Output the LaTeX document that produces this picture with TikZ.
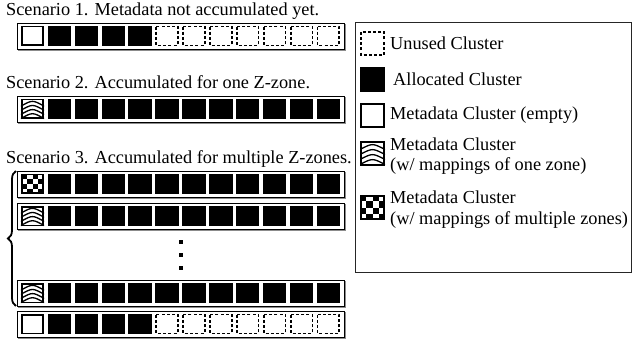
\documentclass[tikz,border=0pt]{standalone}
\usepackage{fontspec}
\setmainfont{Liberation Serif}
\usetikzlibrary{decorations.pathreplacing}

% one cell of a cluster bar: #1 = left x, #2 = top y, #3 = width, #4 = height
\newcommand\clcellK[4]{\fill[black] (#1,#2) rectangle ++(#3,#4);}
\newcommand\clcellE[4]{\draw[metacell] (#1+0.9,#2+0.9) rectangle (#1+#3-0.9,#2+#4-0.9);}
\newcommand\clcellU[4]{\draw[unusedcell] (#1+0.85,#2+0.85) rectangle (#1+#3-0.85,#2+#4-0.85);}
\newcommand\clcellS[4]{%
  \begin{scope}
    \clip (#1,#2) rectangle ++(#3,#4);
    \foreach \s in {0.22,0.42,0.62,0.82}{
      \draw[stripe] (#1,#2+#4*\s+3) .. controls (#1+#3*0.5,#2+#4*\s-3.5) .. (#1+#3,#2+#4*\s+3);
    }
  \end{scope}
  \draw[metacell] (#1+0.9,#2+0.9) rectangle (#1+#3-0.9,#2+#4-0.9);}
\newcommand\clcellC[4]{%
  \foreach \i in {0,...,3}{
    \foreach \j in {0,...,3}{
      \pgfmathparse{int(mod(\i+\j,2))}
      \ifnum\pgfmathresult=0
        \fill[black] (#1+#3*\i/4,#2+#4*\j/4) rectangle ++(#3/4,#4/4);
      \fi
    }
  }
  \draw[metacell] (#1+0.9,#2+0.9) rectangle (#1+#3-0.9,#2+#4-0.9);}

% a framed bar of twelve clusters: #1 = name, #2 = top y, #3 = list of cell kinds
\newcommand\clusterbar[3]{%
  \draw[barshadow] (18.2,#2+1.2) rectangle (345.2,#2+27.2);
  \node[barframe, minimum width=327pt, minimum height=26pt, anchor=north west] (#1) at (17,#2) {};
  \foreach \k [count=\n from 0] in {#3}{
    \pgfmathsetmacro\cx{20.8+26.9*\n}
    \pgfmathsetmacro\cy{#2+2.7}
    \csname clcell\k\endcsname{\cx}{\cy}{23.4}{20.6}
  }
}

\tikzset{
  label/.style={anchor=base west, inner sep=0pt, font=\fontsize{18.3}{20.8}\selectfont},
  twoline/.style={label, align=left},
  barframe/.style={draw=black, line width=0.9pt, fill=white, inner sep=0pt, outer sep=0pt},
  barshadow/.style={draw=black!45, line width=1pt},
  metacell/.style={draw=black, line width=1.8pt},
  unusedcell/.style={draw=black, line width=1.7pt, dash pattern=on 3pt off 2.2pt},
  stripe/.style={draw=black, line width=1.3pt},
  legendbox/.style={draw=black!85, line width=0.8pt},
  ellipsisdot/.style={fill=black, minimum size=4pt, inner sep=0pt},
}

\begin{document}
\begin{tikzpicture}[x=1pt, y=-1pt]
  \useasboundingbox (0,0) rectangle (633,345);

  % scenario 1
  \node[label] (t1) at (6,16) {Scenario 1. Metadata not accumulated yet.};
  \clusterbar{bar1}{23}{E,K,K,K,K,U,U,U,U,U,U,U}

  % scenario 2
  \node[label] (t2) at (6,89) {Scenario 2. Accumulated for one Z-zone.};
  \clusterbar{bar2}{96}{S,K,K,K,K,K,K,K,K,K,K,K}

  % scenario 3
  \node[label] (t3) at (6,164) {Scenario 3. Accumulated for multiple Z-zones.};
  \clusterbar{bar3a}{171}{C,K,K,K,K,K,K,K,K,K,K,K}
  \clusterbar{bar3b}{203}{S,K,K,K,K,K,K,K,K,K,K,K}
  \node[ellipsisdot] (d1) at (181,242) {};
  \node[ellipsisdot] (d2) at (181,255) {};
  \node[ellipsisdot] (d3) at (181,268) {};
  \clusterbar{bar3c}{280}{S,K,K,K,K,K,K,K,K,K,K,K}
  \clusterbar{bar4}{311}{E,K,K,K,K,U,U,U,U,U,U,U}

  % brace grouping the accumulated bars
  \coordinate (bt) at (16,171);
  \coordinate (bb) at (16,306);
  \draw[decorate, decoration={brace, amplitude=8pt}, line width=1.8pt] (bb) -- (bt);

  % legend
  \node[legendbox, minimum width=276pt, minimum height=250pt, anchor=north west, inner sep=0pt] (legend) at (355,22) {};
  \clcellU{360}{31}{25}{25}
  \node[label] (lu) at (390,50) {Unused Cluster};
  \clcellK{360}{67}{25}{25}
  \node[label] (lk) at (393,86) {Allocated Cluster};
  \clcellE{360}{103}{25}{25}
  \node[label] (le) at (390,120) {Metadata Cluster (empty)};
  \clcellS{360}{141}{25}{25}
  \node[twoline] (ls) at (390,171) {Metadata Cluster\\(w/ mappings of one zone)};
  \clcellC{360}{195}{25}{25}
  \node[twoline] (lc) at (390,224) {Metadata Cluster\\(w/ mappings of multiple zones)};
\end{tikzpicture}
\end{document}
